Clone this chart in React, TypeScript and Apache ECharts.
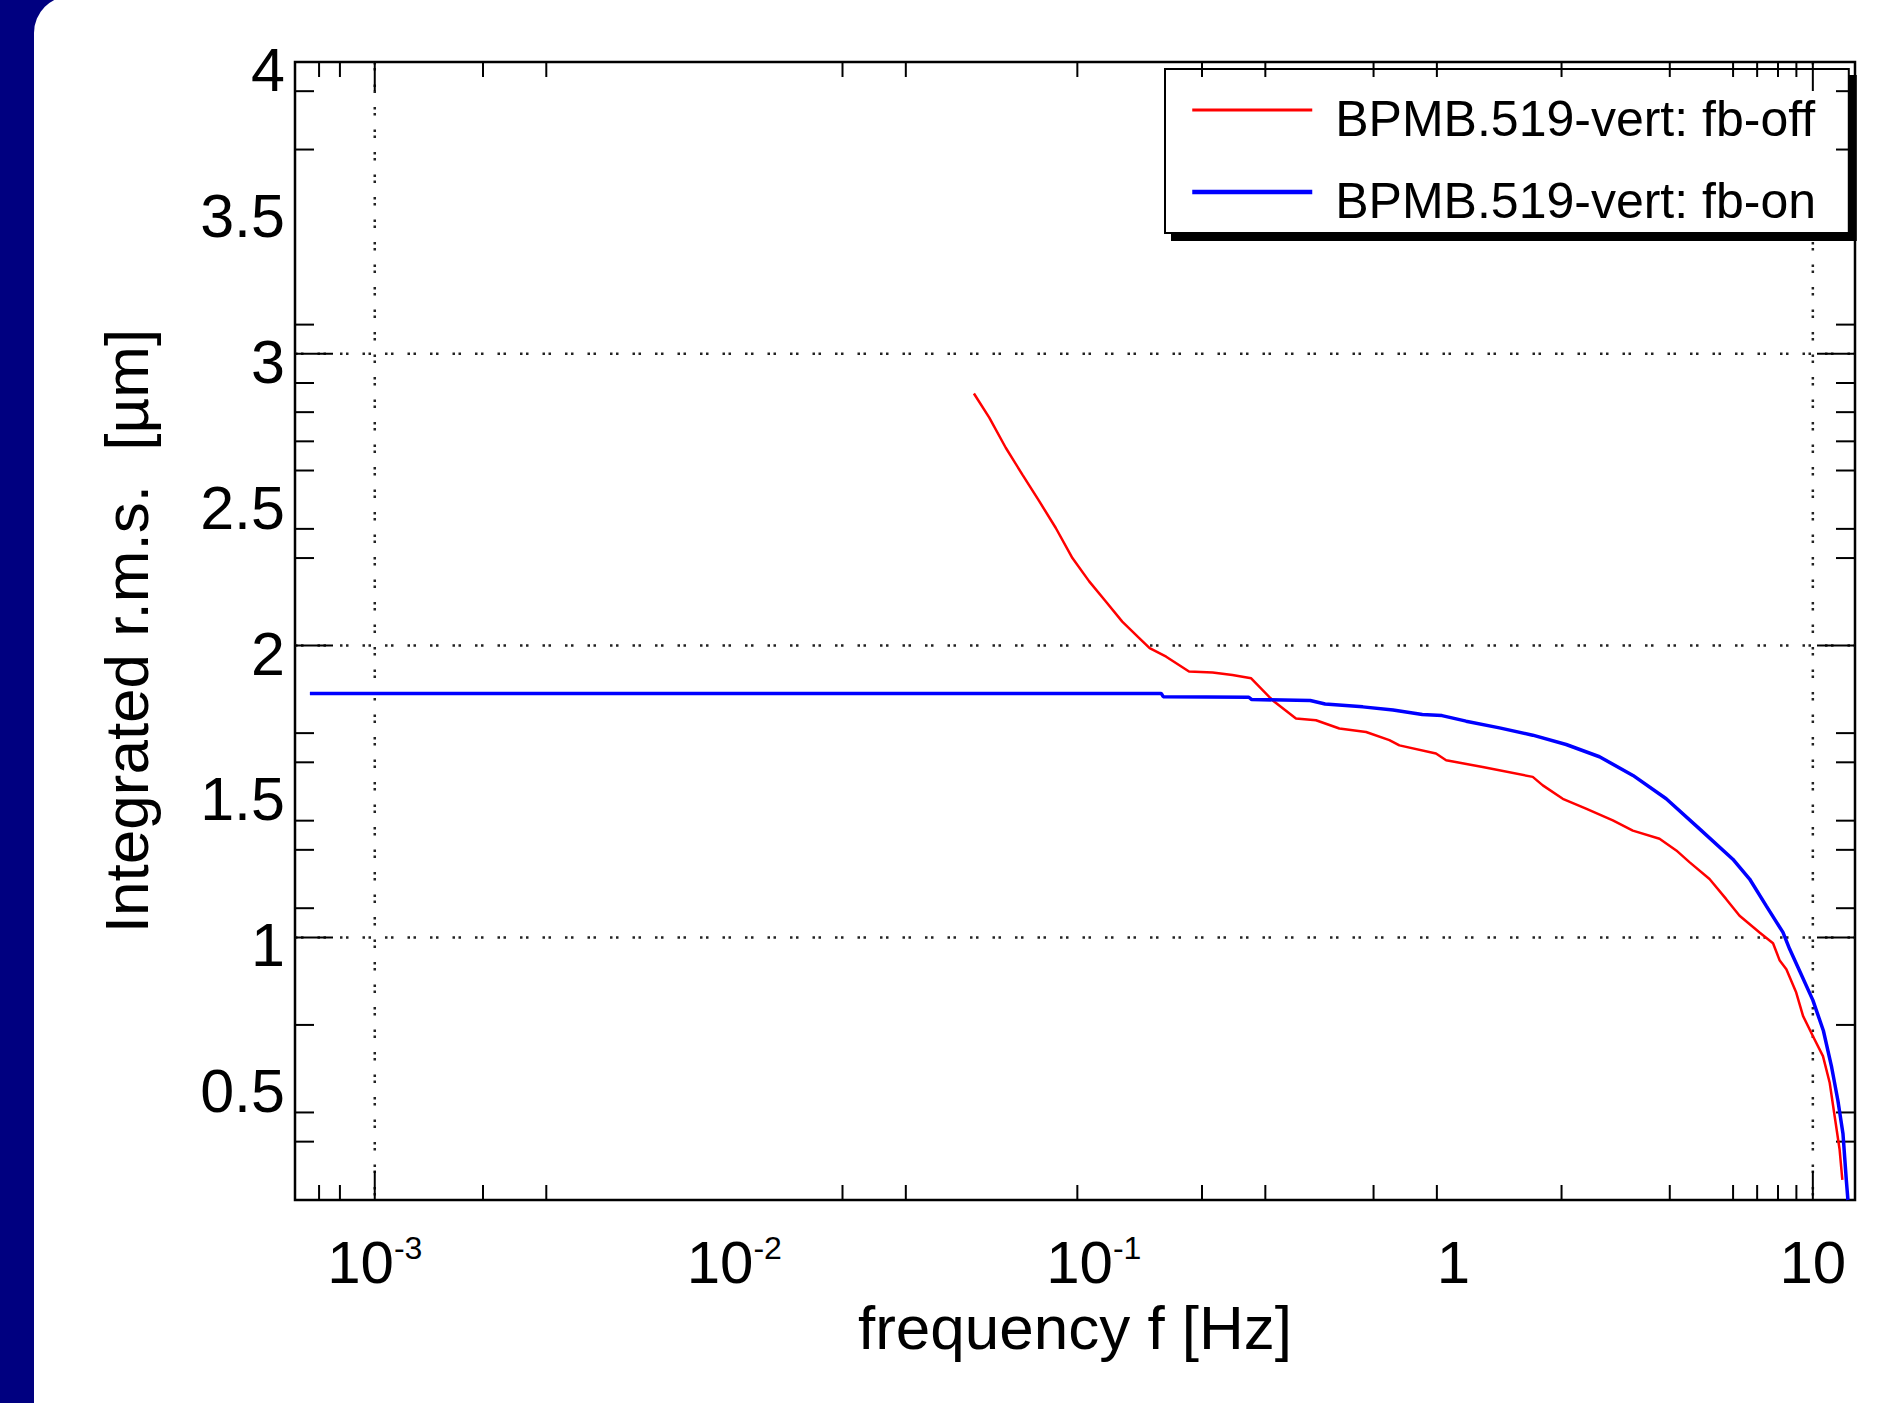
import React, { useEffect, useRef } from "react";
import * as echarts from "echarts";

const FONT = '"Liberation Sans", Arial, Helvetica, sans-serif';

const seriesNames = ["BPMB.519-vert: fb-off", "BPMB.519-vert: fb-on"];
const xAxisTitle = "frequency f [Hz]";
const yAxisTitle = "Integrated r.m.s.  [µm]";

// feedback off (red)
const fbOffFreq = [
  0.0464, 0.0512, 0.0569, 0.0633, 0.0705, 0.0784, 0.0872, 0.0971, 0.108, 0.12,
  0.134, 0.143, 0.159, 0.184, 0.214, 0.243, 0.274, 0.314, 0.365, 0.415, 0.482,
  0.572, 0.664, 0.708, 0.895, 0.955, 1.207, 1.663, 1.774, 2.016, 2.339, 2.778,
  3.157, 3.746, 4.17, 4.537, 5.16, 5.743, 6.255, 7.11, 7.75, 8.08, 8.44, 8.99,
  9.39, 10.0, 10.67, 11.14, 11.5, 11.87, 12.08,
];
const fbOffRms = [
  2.864, 2.781, 2.678, 2.586, 2.495, 2.403, 2.3, 2.22, 2.151, 2.082,
  2.025, 1.991, 1.962, 1.911, 1.908, 1.899, 1.888, 1.813, 1.75, 1.744, 1.716,
  1.704, 1.676, 1.658, 1.63, 1.607, 1.584, 1.55, 1.521, 1.475, 1.441, 1.401,
  1.366, 1.338, 1.298, 1.258, 1.2, 1.131, 1.074, 1.017, 0.98, 0.922, 0.891, 0.811,
  0.731, 0.662, 0.593, 0.502, 0.387, 0.273, 0.169,
];

// feedback on (blue)
const fbOnFreq = [
  0.00066, 0.154, 0.156, 0.27, 0.275, 0.4, 0.44, 0.56, 0.68, 0.82, 0.93, 1.085,
  1.344, 1.663, 2.06, 2.55, 3.16, 3.91, 4.84, 5.99, 6.67, 7.42, 8.26, 8.62, 9.19,
  10.0, 10.7, 11.26, 11.74, 12.13, 12.39, 12.52,
];
const fbOnRms = [
  1.836, 1.836, 1.825, 1.823, 1.815, 1.812, 1.8, 1.79, 1.779, 1.764, 1.76, 1.741,
  1.718, 1.693, 1.661, 1.619, 1.555, 1.475, 1.372, 1.268, 1.2, 1.108, 1.017, 0.96, 0.885,
  0.785, 0.68, 0.56, 0.441, 0.327, 0.169, 0.1,
];

const yTickLabels = [0.5, 1, 1.5, 2, 2.5, 3, 3.5, 4];
const xMajorTicks = [0.001, 10];
const xMinorTicks = [7e-4, 8e-4, 2e-3, 3e-3, 2e-2, 3e-2, 9e-2, 0.2, 0.3, 0.6, 0.9, 2, 4, 6, 7, 8, 9];
const yMajorTicks = [1, 2, 3];
const yMinorTicks = [3.9, 3.7, 3.1, 2.9, 2.8, 2.7, 2.6, 2.4, 2.3, 1.7, 1.6, 1.4, 1.3, 1.1, 0.7, 0.4, 0.3];
const xGridLines = [0.001, 10];
const yGridLines = [1, 2, 3];

const X_MIN = 6e-4;
const X_MAX = 13.1;
const Y_MIN = 0.1;
const Y_MAX = 4;

function tickSeries(values: number[], dir: "x" | "y", len: number) {
  return {
    type: "custom",
    silent: true,
    z: 5,
    clip: false,
    data: values.map((v) => (dir === "x" ? [v, 1] : [1, v])),
    renderItem: (params: any, api: any) => {
      const cs = params.coordSys;
      const st = () => ({ stroke: "#000", lineWidth: 2 });
      if (dir === "x") {
        const x = api.coord([api.value(0), 1])[0];
        const b = cs.y + cs.height;
        const t = cs.y;
        return {
          type: "group",
          children: [
            { type: "line", shape: { x1: x, y1: b, x2: x, y2: b - len }, style: st() },
            { type: "line", shape: { x1: x, y1: t, x2: x, y2: t + len }, style: st() },
          ],
        };
      }
      const y = api.coord([1, api.value(1)])[1];
      const l = cs.x;
      const r = cs.x + cs.width;
      return {
        type: "group",
        children: [
          { type: "line", shape: { x1: l, y1: y, x2: l + len, y2: y }, style: st() },
          { type: "line", shape: { x1: r, y1: y, x2: r - len, y2: y }, style: st() },
        ],
      };
    },
  };
}

function gridSeries(values: number[], dir: "x" | "y") {
  return {
    type: "custom",
    silent: true,
    z: 1,
    clip: false,
    data: values.map((v) => (dir === "x" ? [v, 1] : [1, v])),
    renderItem: (params: any, api: any) => {
      const cs = params.coordSys;
      const style = { stroke: "#222", lineWidth: 2.5, lineDash: [2.5, 3.5, 2.5, 14] };
      if (dir === "x") {
        const x = api.coord([api.value(0), 1])[0];
        return { type: "line", shape: { x1: x, y1: cs.y, x2: x, y2: cs.y + cs.height }, style };
      }
      const y = api.coord([1, api.value(1)])[1];
      return { type: "line", shape: { x1: cs.x, y1: y, x2: cs.x + cs.width, y2: y }, style };
    },
  };
}

export default function App() {
  const ref = useRef<HTMLDivElement>(null);

  useEffect(() => {
    if (!ref.current) return;
    const chart = echarts.init(ref.current, undefined, { renderer: "svg" });

    const option: any = {
      animation: false,
      backgroundColor: "#000080",
      graphic: [
        {
          type: "rect",
          z: -100,
          silent: true,
          shape: { x: 34, y: -4, width: 1950, height: 1500, r: 37 },
          style: { fill: "#ffffff" },
        },
      ],
      grid: {
        left: 295,
        top: 62,
        right: 42,
        bottom: 203,
        show: true,
        backgroundColor: "#ffffff",
        borderColor: "#000",
        borderWidth: 2.5,
        containLabel: false,
        outerBoundsMode: "none",
      },
      legend: {
        data: [
          { name: seriesNames[0], lineStyle: { width: 3 } },
          { name: seriesNames[1], lineStyle: { width: 4.5 } },
        ],
        orient: "vertical",
        left: 1165,
        top: 69,
        padding: [7, 30, 7, 25],
        itemWidth: 120,
        itemHeight: 14,
        itemGap: 14,
        backgroundColor: "#ffffff",
        borderColor: "#000",
        borderWidth: 2,
        shadowColor: "#000",
        shadowBlur: 0,
        shadowOffsetX: 7,
        shadowOffsetY: 7,
        selectedMode: false,
        itemStyle: { opacity: 0 },
        formatter: (name: string) => "{t|" + name + "}{sp| }",
        textStyle: {
          fontSize: 50,
          fontFamily: FONT,
          color: "#000",
          padding: [0, 0, 0, 18],
          rich: {
            t: { fontSize: 50, fontFamily: FONT, color: "#000", lineHeight: 52, verticalAlign: "bottom" },
            sp: { fontSize: 10, fontFamily: FONT, lineHeight: 68, verticalAlign: "top" },
          },
        },
      },
      xAxis: {
        type: "log",
        logBase: 10,
        min: X_MIN,
        max: X_MAX,
        axisLine: { show: false },
        axisTick: { show: false },
        splitLine: { show: false },
        minorTick: { show: false },
        minorSplitLine: { show: false },
        axisLabel: {
          margin: 32,
          color: "#000",
          formatter: (v: number) => {
            const e = Math.log10(v);
            const r = Math.round(e);
            if (Math.abs(e - r) > 1e-6) return "";
            if (r === 0) return "{b|1}";
            if (r === 1) return "{b|10}";
            return "{b|10}{s|" + r + "}";
          },
          rich: {
            b: { fontSize: 60, fontFamily: FONT, color: "#000", lineHeight: 60 },
            s: { fontSize: 32, fontFamily: FONT, color: "#000", lineHeight: 26, verticalAlign: "top" },
          },
        },
        name: xAxisTitle,
        nameLocation: "middle",
        nameGap: 92,
        nameTextStyle: { fontSize: 62, fontFamily: FONT, color: "#000" },
      },
      yAxis: {
        type: "value",
        min: Y_MIN,
        max: Y_MAX,
        splitNumber: 8,
        axisLine: { show: false },
        axisTick: { show: false },
        splitLine: { show: false },
        axisLabel: {
          customValues: yTickLabels,
          formatter: (v: number) => (Math.abs(v - Y_MIN) < 1e-9 ? "" : String(v)),
          fontSize: 61,
          fontFamily: FONT,
          color: "#000",
          margin: 10,
          verticalAlign: "top",
          lineHeight: 16,
        },
        name: yAxisTitle,
        nameLocation: "middle",
        nameGap: 138,
        nameRotate: 90,
        nameTextStyle: { fontSize: 62, fontFamily: FONT, color: "#000" },
      },
      series: [
        gridSeries(xGridLines, "x"),
        gridSeries(yGridLines, "y"),
        tickSeries(xMinorTicks, "x", 15),
        tickSeries(xMajorTicks, "x", 29),
        tickSeries(yMinorTicks, "y", 19),
        tickSeries(yMajorTicks, "y", 38),
        {
          name: seriesNames[0],
          type: "line",
          data: fbOffFreq.map((f, i) => [f, fbOffRms[i]]),
          showSymbol: false,
          symbol: "none",
          z: 6,
          lineStyle: { color: "#ff0000", width: 2.5 },
          itemStyle: { color: "#ff0000" },
        },
        {
          name: seriesNames[1],
          type: "line",
          data: fbOnFreq.map((f, i) => [f, fbOnRms[i]]),
          showSymbol: false,
          symbol: "none",
          z: 6,
          lineStyle: { color: "#0000ff", width: 3.5 },
          itemStyle: { color: "#0000ff" },
        },
      ],
    };

    chart.setOption(option);
    return () => chart.dispose();
  }, []);

  return (
    <div
      ref={ref}
      style={{ position: "absolute", left: 0, top: 0, width: 1897, height: 1403 }}
    />
  );
}
